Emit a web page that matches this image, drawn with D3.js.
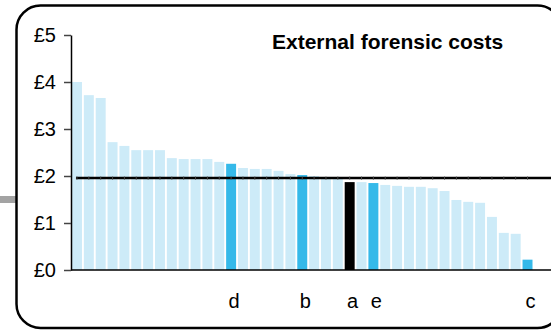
<!DOCTYPE html>
<html>
<head>
<meta charset="utf-8">
<script src="https://cdn.jsdelivr.net/npm/d3@7"></script>
<style>
  html, body { margin: 0; padding: 0; background: #fff; }
  svg { display: block; font-family: "Liberation Sans", Arial, sans-serif; }
</style>
</head>
<body>
<div id="chart"></div>
<script>
// cost per case, sorted high to low
var costs = [4.00, 3.72, 3.66, 2.72, 2.64, 2.55, 2.55, 2.55, 2.38, 2.36, 2.36, 2.36, 2.30, 2.26,
             2.17, 2.15, 2.15, 2.11, 2.04, 2.02, 2.00, 1.97, 1.96, 1.87, 1.87, 1.85, 1.81, 1.79,
             1.77, 1.77, 1.74, 1.68, 1.49, 1.45, 1.43, 1.13, 0.79, 0.77, 0.22];
// letters under the highlighted bars (index -> label)
var markedIdx = [13, 19, 23, 25, 38];
var markedLbl = ["d", "b", "a", "e", "c"];
var ownIdx = 23;           // "a" is drawn black
var average = 1.96;
var yTicks = [0, 1, 2, 3, 4, 5];
var title = "External forensic costs";

var W = 551, H = 331;
var svg = d3.select("#chart").append("svg").attr("width", W).attr("height", H);

// grey stub left of the frame
svg.append("rect").attr("x", 0).attr("y", 196).attr("width", 16).attr("height", 7).attr("fill", "#a3a3a3");

// rounded frame (runs off the right edge)
svg.append("rect")
    .attr("x", 16.5).attr("y", 5.5).attr("width", 545).attr("height", 322.5)
    .attr("rx", 24).attr("ry", 24)
    .attr("fill", "none").attr("stroke", "#000").attr("stroke-width", 2.5);

var idx = d3.range(costs.length);
var x = d3.scaleBand().domain(idx).range([72, 532.5]).paddingInner(0.16).paddingOuter(0);
var y = d3.scaleLinear().domain([0, 5]).range([270, 35]);

var colour = function (i) {
    if (i === ownIdx) return "#000";
    if (markedIdx.indexOf(i) >= 0) return "#35b9e9";
    return "#cdebf8";
};

svg.append("g").selectAll("rect")
    .data(idx)
    .enter().append("rect")
    .attr("x", function (i) { return x(i); })
    .attr("y", function (i) { return y(costs[i]); })
    .attr("width", x.bandwidth())
    .attr("height", function (i) { return y(0) - y(costs[i]); })
    .attr("fill", colour);

// y axis
var yAxis = d3.axisLeft(y).tickValues(yTicks).tickSize(7).tickSizeOuter(0).tickPadding(8)
    .tickFormat(function (d) { return "£" + d; });
var gy = svg.append("g").attr("transform", "translate(71,0)").call(yAxis);
gy.select(".domain").attr("stroke", "#000").attr("stroke-width", 1.5);
gy.selectAll(".tick line").attr("stroke", "#444").attr("stroke-width", 1.5);
gy.selectAll(".tick text").attr("font-size", 20).attr("fill", "#000")
    .attr("font-family", "'Liberation Sans', Arial, sans-serif");

// x baseline
svg.append("line").attr("x1", 71).attr("x2", W).attr("y1", y(0)).attr("y2", y(0))
    .attr("stroke", "#000").attr("stroke-width", 1.5);

// average line with a faint mark at each bar
var x0 = x(0) + x.bandwidth() / 2;
svg.append("line").attr("x1", x0 - 1).attr("x2", W).attr("y1", y(average)).attr("y2", y(average))
    .attr("stroke", "#000").attr("stroke-width", 2.5);
svg.append("g").selectAll("line")
    .data(idx)
    .enter().append("line")
    .attr("x1", function (i) { return x(i) + x.bandwidth() / 2; })
    .attr("x2", function (i) { return x(i) + x.bandwidth() / 2; })
    .attr("y1", y(average) - 1.5).attr("y2", y(average) + 2)
    .attr("stroke", "#555").attr("stroke-width", 0.8);

// letters under marked bars
svg.append("g").selectAll("text")
    .data(markedIdx)
    .enter().append("text")
    .attr("x", function (i) { return x(i) + x.bandwidth() / 2 + 3; })
    .attr("y", 308)
    .attr("text-anchor", "middle")
    .attr("font-size", 20)
    .text(function (i, k) { return markedLbl[k]; });

svg.append("text").attr("x", 272).attr("y", 49)
    .attr("font-size", 21).attr("font-weight", "bold")
    .text(title);
</script>
</body>
</html>
